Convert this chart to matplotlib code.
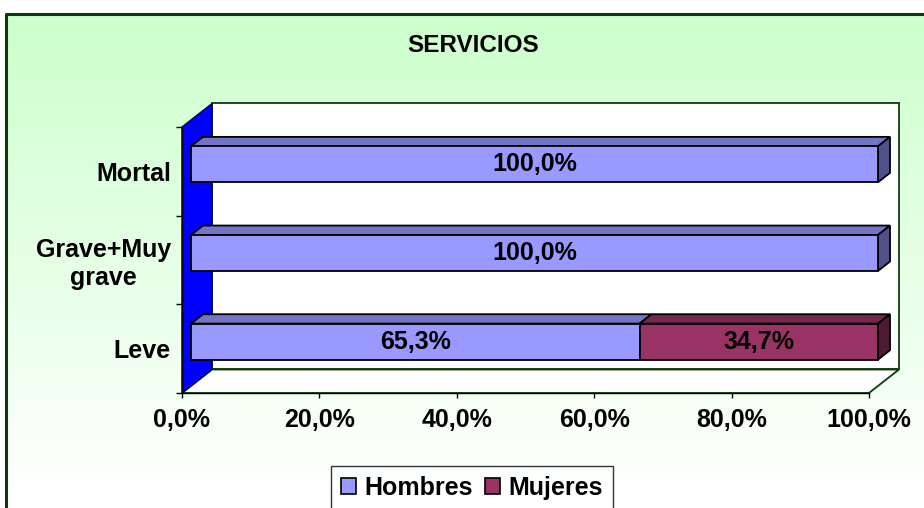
import numpy as np
import matplotlib
matplotlib.use("Agg")
import matplotlib.pyplot as plt
import matplotlib.transforms as mtransforms
from matplotlib.patches import Polygon, Patch

plt.rcParams['font.family'] = ['Liberation Sans', 'DejaVu Sans']

# ---------------- data ----------------
title = "SERVICIOS"
categories = ["Leve", "Grave+Muy\ngrave", "Mortal"]   # bottom -> top
hombres = [65.3, 100.0, 100.0]
mujeres = [34.7, 0.0, 0.0]
series_names = ["Hombres", "Mujeres"]
x_ticks = [0, 20, 40, 60, 80, 100]
x_ticklabels = ["0,0%", "20,0%", "40,0%", "60,0%", "80,0%", "100,0%"]

# ---------------- style ----------------
W, H = 924, 508
col_h = ('#9999FF', '#7474C4', '#50508A')   # front, top, side
col_m = ('#993366', '#74264D', '#4F1A35')
frame_col = '#0B3B0B'
FS = 18

fig = plt.figure(figsize=(W / 100, H / 100), dpi=100)

# background with gradient chart area
bg = fig.add_axes([0, 0, 1, 1], zorder=0)
bg.set_xlim(0, W)
bg.set_ylim(H, 0)
bg.axis('off')
top_c = np.array([204, 255, 204]) / 255.0
bot_c = np.array([255, 255, 255]) / 255.0
t = np.clip(np.linspace(0, 1, 200), 0, 1)[:, None]
grad = (top_c * (1 - t) + bot_c * t)[:, None, :]
bg.imshow(grad, extent=(6, W, 498, 14), aspect='auto', interpolation='bilinear')
bg.imshow(np.ones((2, 2, 3)), extent=(6, W, H, 497), aspect='auto')
bg.plot([6, 6, W], [H, 14, 14], color=frame_col, lw=2.2, solid_capstyle='butt')
bg.set_xlim(0, W)
bg.set_ylim(H, 0)

# main axes = front plane of the 3D plot
ax = fig.add_axes([182 / W, 1 - 393 / H, 687 / W, 266 / H], zorder=1)
ax.set_xlim(0, 100)
ax.set_ylim(-0.5, 2.5)
ax.patch.set_visible(False)

px_x = 687 / 100.0
px_y = 266 / 3.0
DX_PX, DY_PX = 30.0, 23.5
dx = DX_PX / px_x
dy = DY_PX / px_y

# walls and floor
ax.add_patch(Polygon([(dx, -0.5 + dy), (100 + dx, -0.5 + dy), (100 + dx, 2.5 + dy), (dx, 2.5 + dy)],
                     closed=True, facecolor='white', edgecolor=frame_col, lw=1.3, clip_on=False, zorder=1))
ax.add_patch(Polygon([(0, -0.5), (dx, -0.5 + dy), (dx, 2.5 + dy), (0, 2.5)],
                     closed=True, facecolor='#0000FF', edgecolor='#000055', lw=1.0, clip_on=False, zorder=1.2))
ax.add_patch(Polygon([(0, -0.5), (100, -0.5), (100 + dx, -0.5 + dy), (dx, -0.5 + dy)],
                     closed=True, facecolor='white', edgecolor=frame_col, lw=1.3, clip_on=False, zorder=1.1))

# bars
f1, f2 = 0.3, 0.7
off = mtransforms.offset_copy(ax.transData, fig=fig, x=f1 * DX_PX, y=f1 * DY_PX, units='dots')
bdx = (f2 - f1) * DX_PX / px_x
bdy = (f2 - f1) * DY_PX / px_y
bh = 36.0 / px_y
ypos = np.arange(len(categories))

def label(v):
    return f"{v:.1f}%".replace('.', ',')

for i, y in enumerate(ypos):
    segs = [(0.0, hombres[i], col_h), (hombres[i], mujeres[i], col_m)]
    segs = [s for s in segs if s[1] > 0]
    yt = y + bh / 2
    yb = y - bh / 2
    for j, (l, w, c) in enumerate(segs):
        ax.add_patch(Polygon([(l, yt), (l + w, yt), (l + w + bdx, yt + bdy), (l + bdx, yt + bdy)],
                             closed=True, facecolor=c[1], edgecolor='black', lw=1.3,
                             transform=off, clip_on=False, zorder=3))
        if j == len(segs) - 1:
            r = l + w
            ax.add_patch(Polygon([(r, yb), (r, yt), (r + bdx, yt + bdy), (r + bdx, yb + bdy)],
                                 closed=True, facecolor=c[2], edgecolor='black', lw=1.3,
                                 transform=off, clip_on=False, zorder=3))

bars_h = ax.barh(ypos, hombres, height=bh, color=col_h[0], edgecolor='black', lw=1.3,
                 transform=off, clip_on=False, zorder=4)
bars_m = ax.barh(ypos, mujeres, left=hombres, height=bh, color=col_m[0], edgecolor='black', lw=1.3,
                 transform=off, clip_on=False, zorder=4)
for rect in bars_m:
    if rect.get_width() == 0:
        rect.set_visible(False)

for i, y in enumerate(ypos):
    ax.text(hombres[i] / 2, y, label(hombres[i]), transform=off, ha='center', va='center',
            fontsize=FS, fontweight='bold', zorder=5)
    if mujeres[i] > 0:
        ax.text(hombres[i] + mujeres[i] / 2, y, label(mujeres[i]), transform=off, ha='center',
                va='center', fontsize=FS, fontweight='bold', zorder=5)

ax.set_xlim(0, 100)
ax.set_ylim(-0.5, 2.5)

# axes / ticks
for s in ['top', 'right']:
    ax.spines[s].set_visible(False)
for s in ['left', 'bottom']:
    ax.spines[s].set_color('black')
    ax.spines[s].set_linewidth(1.0)
    ax.spines[s].set_zorder(2)
ax.set_xticks(x_ticks)
ax.set_xticklabels(x_ticklabels, fontsize=FS, fontweight='bold')
ax.tick_params(axis='x', direction='out', length=3.6, width=1, pad=7.5)
ax.set_yticks(ypos)
ax.set_yticklabels(categories, fontsize=FS, fontweight='bold')
for lab in ax.get_yticklabels():
    lab.set_multialignment('center')
    lab.set_linespacing(1.2)
ax.tick_params(axis='y', which='major', length=0, pad=8.0)
ax.set_yticks([-0.5, 0.5, 1.5, 2.5], minor=True)
ax.tick_params(axis='y', which='minor', direction='out', length=4.3, width=1)

# title
fig.text(473 / W, 1 - 45 / H, title, ha='center', va='center', fontsize=17.5, fontweight='bold')

# legend
handles = [Patch(facecolor=col_h[0], edgecolor='black', lw=1.2),
           Patch(facecolor=col_m[0], edgecolor='black', lw=1.2)]
leg = fig.legend(handles, series_names, loc='upper center', bbox_to_anchor=(472 / W, 1 - 466 / H),
                 ncol=2, frameon=True, fancybox=False, edgecolor='black', facecolor='none',
                 prop={'size': FS, 'weight': 'bold'}, handlelength=0.6, handleheight=0.6,
                 handletextpad=0.35, columnspacing=0.45, borderpad=0.4, borderaxespad=0)
leg.get_frame().set_linewidth(1.0)

fig.savefig('out.png', dpi=100)
